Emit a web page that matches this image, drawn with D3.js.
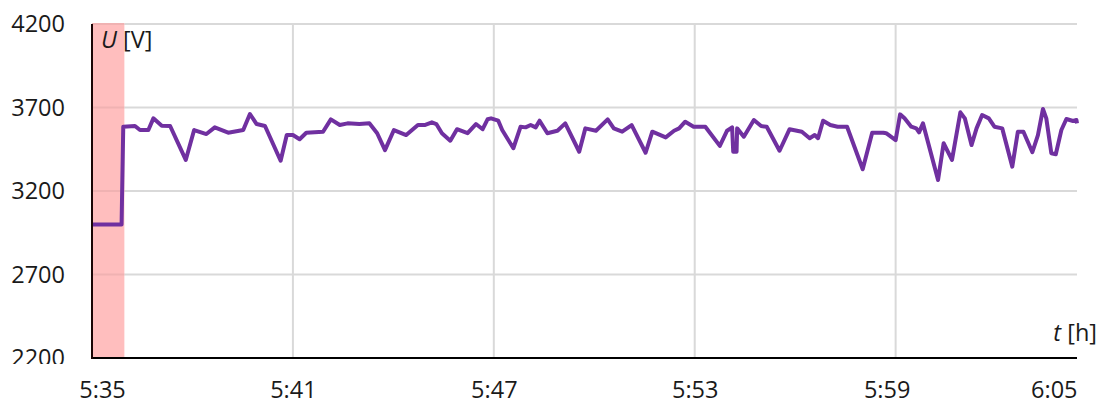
<!DOCTYPE html>
<html>
<head>
<meta charset="utf-8">
<script src="https://cdn.jsdelivr.net/npm/d3@7"></script>
<style>
  html, body { margin: 0; padding: 0; background: #ffffff; }
  svg { display: block; }
  text { font-family: "Open Sans", "Liberation Sans", sans-serif; fill: #1a1a1a; }
</style>
</head>
<body>
<svg id="chart" width="1109" height="410"></svg>
<script>
// Seconds after 5:35:00 and measured voltage U [V]
const seconds = [
  0, 53, 56, 77, 86, 101, 110, 125, 140, 168, 183, 205, 220, 244, 271, 283, 295, 310, 338, 349,
  360, 372, 384, 414, 428, 444, 458, 479, 497, 511, 525, 541, 563, 584, 596, 609, 617, 627, 642, 654,
  673, 688, 700, 709, 715, 728, 735, 755, 768, 777, 786, 795, 802, 816, 834, 848, 873, 884, 903, 924,
  935, 950, 967, 992, 1004, 1028, 1043, 1052, 1063, 1078, 1099, 1125, 1138, 1147, 1149, 1155, 1156, 1168, 1186, 1199,
  1209, 1232, 1250, 1272, 1286, 1295, 1301, 1310, 1323, 1336, 1353, 1381, 1398, 1418, 1423, 1440, 1448, 1456, 1468, 1477,
  1482, 1489, 1516, 1526, 1541, 1556, 1564, 1576, 1585, 1595, 1607, 1617, 1631, 1649, 1659, 1669, 1685, 1695, 1704, 1710,
  1719, 1727, 1737, 1746, 1758, 1764, 1765
];
const voltage = [
  3000, 3000, 3585, 3589, 3565, 3565, 3635, 3591, 3589, 3386, 3565, 3541, 3581, 3549, 3565, 3661, 3601, 3589, 3381, 3535,
  3535, 3510, 3549, 3555, 3629, 3595, 3605, 3601, 3605, 3546, 3445, 3565, 3535, 3595, 3595, 3611, 3601, 3546, 3501, 3570,
  3546, 3601, 3570, 3630, 3635, 3621, 3565, 3456, 3585, 3581, 3595, 3581, 3621, 3546, 3561, 3605, 3435, 3575, 3561, 3629,
  3575, 3555, 3595, 3429, 3555, 3521, 3561, 3575, 3615, 3585, 3585, 3470, 3561, 3581, 3435, 3435, 3575, 3525, 3625, 3589,
  3585, 3441, 3570, 3555, 3516, 3535, 3516, 3621, 3595, 3585, 3585, 3330, 3549, 3549, 3546, 3505, 3659, 3635, 3585, 3575,
  3551, 3605, 3266, 3486, 3386, 3671, 3635, 3475, 3575, 3655, 3635, 3585, 3575, 3346, 3555, 3555, 3432, 3535, 3691, 3635,
  3426, 3420, 3565, 3631, 3619, 3625, 3605
];

// Shaded start-up interval
const bandSeconds = [0, 58];

// Axis ticks
const xTickSeconds = [0, 360, 720, 1080, 1440, 1765];
const xTickLabels = ["5:35", "5:41", "5:47", "5:53", "5:59", "6:05"];
const xGridSeconds = [360, 720, 1080, 1440];
const yTicks = [2200, 2700, 3200, 3700, 4200];

const svg = d3.select("#chart");
const margin = { left: 92, right: 32, top: 24, bottom: 52 };
const W = 1109, H = 410;
const fontSize = 23.5;

const x = d3.scaleLinear().domain([0, 1765]).range([margin.left, W - margin.right]);
const y = d3.scaleLinear().domain([2200, 4200]).range([H - margin.bottom, margin.top]);

// start-up band
svg.append("rect")
  .attr("x", x(bandSeconds[0]))
  .attr("y", y(4200))
  .attr("width", x(bandSeconds[1]) - x(bandSeconds[0]))
  .attr("height", y(2200) - y(4200))
  .attr("fill", "#ffbebe");

// horizontal gridlines
svg.append("g").selectAll("line")
  .data(yTicks.filter(d => d > 2200))
  .join("line")
  .attr("x1", x(bandSeconds[1])).attr("x2", x.range()[1])
  .attr("y1", d => y(d)).attr("y2", d => y(d))
  .attr("stroke", "#d9d9d9").attr("stroke-width", 2);

// gridlines crossing the band
svg.append("g").selectAll("line")
  .data(yTicks.filter(d => d > 2200))
  .join("line")
  .attr("x1", x.range()[0]).attr("x2", x(bandSeconds[1]))
  .attr("y1", d => y(d)).attr("y2", d => y(d))
  .attr("stroke", "#f0b2b2").attr("stroke-width", 2);

// vertical gridlines
svg.append("g").selectAll("line")
  .data(xGridSeconds)
  .join("line")
  .attr("x1", d => x(d)).attr("x2", d => x(d))
  .attr("y1", y(4200)).attr("y2", y(2200))
  .attr("stroke", "#d9d9d9").attr("stroke-width", 2);

// voltage trace
const pts = seconds.map((s, i) => [s, voltage[i]]);
svg.append("path")
  .datum(pts)
  .attr("fill", "none")
  .attr("stroke", "#7030a0")
  .attr("stroke-width", 4)
  .attr("stroke-linejoin", "round")
  .attr("stroke-linecap", "butt")
  .attr("d", d3.line().x(d => x(d[0])).y(d => y(d[1])));

// axis lines
svg.append("line")
  .attr("x1", x.range()[0]).attr("x2", x.range()[1])
  .attr("y1", y(2200)).attr("y2", y(2200))
  .attr("stroke", "#000").attr("stroke-width", 2);
svg.append("line")
  .attr("x1", x.range()[0]).attr("x2", x.range()[0])
  .attr("y1", y(4200)).attr("y2", y(2200) + 1)
  .attr("stroke", "#1a0505").attr("stroke-width", 2);

// y tick labels (the lowest one is cut by the chart frame)
const yShift = margin.left - 27;
svg.append("clipPath").attr("id", "yclip")
  .append("rect").attr("x", -yShift).attr("y", 0).attr("width", margin.left).attr("height", y(2200) + 6);

const yAxis = d3.axisLeft(y).tickValues(yTicks).tickSize(0).tickPadding(0).tickFormat(d3.format("d"));
const gy = svg.append("g")
  .attr("transform", `translate(${yShift},0)`)
  .attr("clip-path", "url(#yclip)")
  .call(yAxis);
gy.select(".domain").remove();
gy.selectAll("text")
  .attr("font-size", fontSize)
  .attr("font-family", null)
  .attr("fill", "#1a1a1a");

// x tick labels
const xAxis = d3.axisBottom(x).tickValues(xTickSeconds).tickSize(0).tickPadding(0)
  .tickFormat((d, i) => xTickLabels[i]);
const labelNudge = [10, 0, 0, 0, -9, 0];
const gx = svg.append("g")
  .attr("transform", `translate(0,${y(2200) + 23})`)
  .call(xAxis);
gx.select(".domain").remove();
gx.selectAll("text")
  .attr("font-size", fontSize)
  .attr("font-family", null)
  .attr("fill", "#1a1a1a")
  .attr("dx", (d, i) => labelNudge[i])
  .attr("text-anchor", (d, i) => i === xTickLabels.length - 1 ? "end" : "middle");

// axis titles
const yt = svg.append("text")
  .attr("x", x(0) + 9).attr("y", y(4200) + 24)
  .attr("font-size", fontSize);
yt.append("tspan").attr("font-style", "italic").text("U");
yt.append("tspan").text(" [V]");

const xt = svg.append("text")
  .attr("x", W - 12).attr("y", y(2200) - 17)
  .attr("text-anchor", "end")
  .attr("font-size", fontSize);
xt.append("tspan").attr("font-style", "italic").text("t");
xt.append("tspan").text(" [h]");
</script>
</body>
</html>
